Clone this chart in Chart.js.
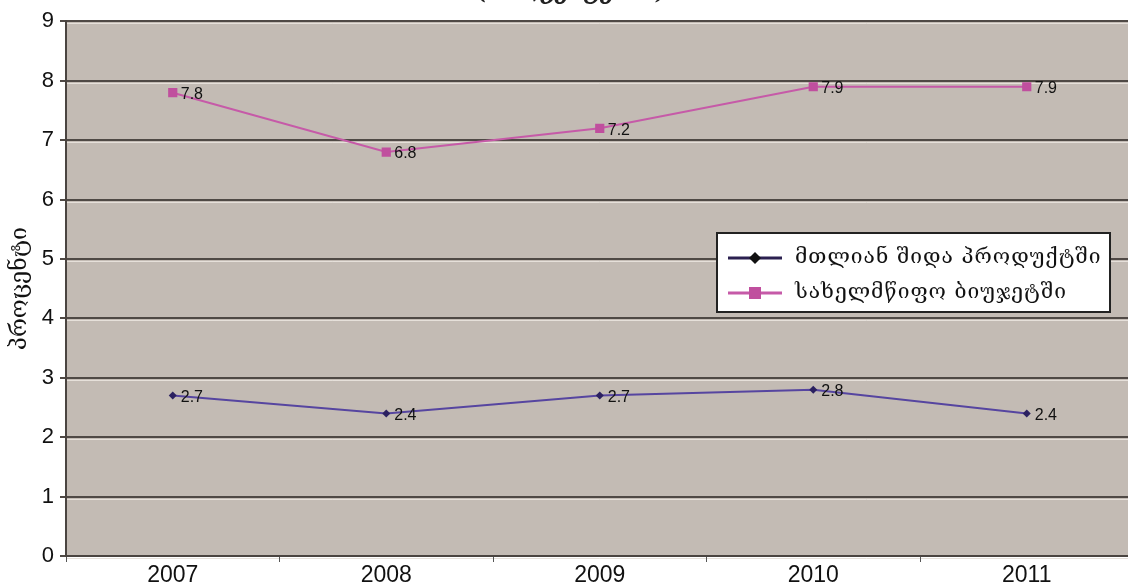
<!DOCTYPE html>
<html>
<head>
<meta charset="utf-8">
<script src="https://cdn.jsdelivr.net/npm/chart.js@4.4.0/dist/chart.umd.min.js"></script>
<style>
  html, body { margin: 0; padding: 0; background: #fff; overflow: hidden; }
  #wrap { position: absolute; left: 0; top: -20px; }
</style>
</head>
<body>
<div id="wrap"><canvas id="grafico" width="1140" height="620"></canvas></div>
<script>
var anos = ['2007', '2008', '2009', '2010', '2011'];
var nomesSeries = ['მთლიან შიდა პროდუქტში', 'სახელმწიფო ბიუჯეტში'];
var valoresPib = [2.7, 2.4, 2.7, 2.8, 2.4];
var valoresOrcamento = [7.8, 6.8, 7.2, 7.9, 7.9];
var ticksY = [0, 1, 2, 3, 4, 5, 6, 7, 8, 9];
var tituloGrafico = '(პროცენტებში)';
var tituloEixoY = 'პროცენტი';

var fonteGeo = "'DejaVu Serif', 'DejaVu Sans', serif";

// fundo cinza da area do grafico + linha clara sob cada grade
var pluginFundo = {
    id: 'fundo',
    beforeDraw: function(chart) {
        var ctx = chart.ctx, a = chart.chartArea;
        ctx.save();
        ctx.fillStyle = '#c3bbb4';
        ctx.fillRect(a.left, a.top, a.right - a.left, a.bottom - a.top);
        var y = chart.scales.y;
        ctx.strokeStyle = '#e6e0da';
        ctx.lineWidth = 1;
        ticksY.forEach(function(v) {
            var py = Math.round(y.getPixelForValue(v)) + 2.5;
            ctx.beginPath();
            ctx.moveTo(a.left, py);
            ctx.lineTo(a.right, py);
            ctx.stroke();
        });
        ctx.restore();
    }
};

// rotulos dos valores ao lado dos pontos
var pluginRotulos = {
    id: 'rotulos',
    afterDatasetsDraw: function(chart) {
        var ctx = chart.ctx;
        ctx.save();
        ctx.font = '16px "Liberation Sans", Arial, sans-serif';
        ctx.fillStyle = '#111';
        ctx.textBaseline = 'middle';
        chart.data.datasets.forEach(function(ds, i) {
            var meta = chart.getDatasetMeta(i);
            meta.data.forEach(function(p, j) {
                ctx.fillText(String(ds.data[j]), p.x + 8, p.y + 2);
            });
        });
        ctx.restore();
    }
};

// legenda em caixa branca dentro do grafico
var pluginLegenda = {
    id: 'legendaCaixa',
    afterDraw: function(chart) {
        var ctx = chart.ctx;
        var x0 = 717, y0 = 253, w = 393, h = 79;
        ctx.save();
        ctx.fillStyle = '#ffffff';
        ctx.fillRect(x0, y0, w, h);
        ctx.strokeStyle = '#222';
        ctx.lineWidth = 2;
        ctx.strokeRect(x0, y0, w, h);
        chart.data.datasets.forEach(function(ds, i) {
            var ly = y0 + 25 + i * 35;
            ctx.strokeStyle = i === 0 ? '#2b2050' : '#c65aa8';
            ctx.lineWidth = 3;
            ctx.beginPath();
            ctx.moveTo(x0 + 11, ly);
            ctx.lineTo(x0 + 65, ly);
            ctx.stroke();
            ctx.fillStyle = i === 0 ? '#111' : '#c04f9e';
            if (i === 0) {
                ctx.beginPath();
                ctx.moveTo(x0 + 38, ly - 6);
                ctx.lineTo(x0 + 44, ly);
                ctx.lineTo(x0 + 38, ly + 6);
                ctx.lineTo(x0 + 32, ly);
                ctx.closePath();
                ctx.fill();
            } else {
                ctx.fillRect(x0 + 32, ly - 6, 12, 12);
            }
            ctx.fillStyle = '#111';
            ctx.font = '21px ' + fonteGeo;
            ctx.letterSpacing = '1px';
            ctx.textBaseline = 'middle';
            ctx.fillText(ds.label, x0 + 78, ly);
            ctx.letterSpacing = '0px';
        });
        ctx.restore();
    }
};

new Chart(document.getElementById('grafico').getContext('2d'), {
    type: 'line',
    data: {
        labels: anos,
        datasets: [{
            label: nomesSeries[0],
            data: valoresPib,
            borderColor: '#5645a0',
            backgroundColor: '#2b2060',
            borderWidth: 2,
            pointStyle: 'rectRot',
            pointRadius: 4,
            pointBorderWidth: 0,
            tension: 0
        }, {
            label: nomesSeries[1],
            data: valoresOrcamento,
            borderColor: '#c65aa8',
            backgroundColor: '#c04f9e',
            borderWidth: 2,
            pointStyle: 'rect',
            pointRadius: 6.5,
            pointBorderWidth: 0,
            tension: 0
        }]
    },
    options: {
        responsive: false,
        animation: false,
        layout: { padding: { top: 0, right: 2, bottom: 14, left: 6 } },
        plugins: {
            legend: { display: false },
            tooltip: { enabled: false },
            title: {
                display: true,
                text: tituloGrafico,
                color: '#222',
                font: { family: fonteGeo, size: 22, style: 'italic' },
                padding: { top: 0, bottom: 15 }
            }
        },
        scales: {
            x: {
                offset: true,
                afterFit: function(axis) { axis.height = 30; },
                grid: {
                    offset: true,
                    drawOnChartArea: false,
                    drawTicks: true,
                    tickLength: 6,
                    color: '#555'
                },
                border: { color: '#4a4440', width: 2 },
                ticks: {
                    color: '#111',
                    padding: 0,
                    font: { family: '"Liberation Sans", Arial', size: 23 }
                }
            },
            y: {
                min: 0,
                max: 9,
                afterFit: function(axis) { axis.width = 60; },
                afterBuildTicks: function(axis) {
                    axis.ticks = ticksY.map(function(v) { return { value: v }; });
                },
                grid: {
                    color: '#4f4945',
                    lineWidth: 2,
                    drawTicks: true,
                    tickLength: 6
                },
                border: { color: '#4a4440', width: 2 },
                ticks: {
                    color: '#111',
                    padding: 6,
                    font: { family: '"Liberation Sans", Arial', size: 22 }
                },
                title: {
                    display: true,
                    text: tituloEixoY,
                    color: '#111',
                    padding: { top: 0, bottom: 4 },
                    font: { family: fonteGeo, size: 23 }
                }
            }
        }
    },
    plugins: [pluginFundo, pluginRotulos, pluginLegenda]
});
</script>
</body>
</html>
